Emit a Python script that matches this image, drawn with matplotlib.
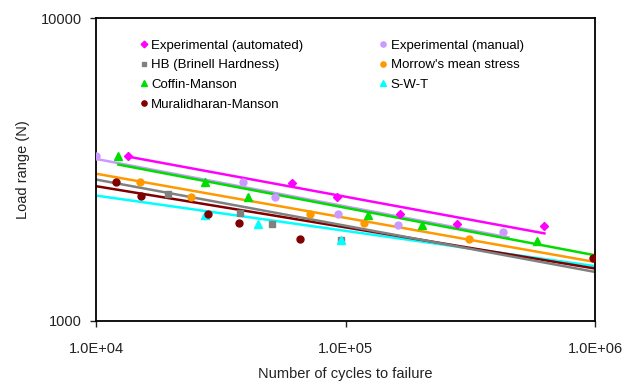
import numpy as np
import matplotlib
matplotlib.use("Agg")
import matplotlib.pyplot as plt
from matplotlib.ticker import FixedLocator, FuncFormatter, NullLocator

plt.rcParams["font.family"] = ["Liberation Sans", "DejaVu Sans"]

# ── Data points (cycles, load range N) ───────────────────────────────────────
auto_n = [1.34e4, 6.13e4, 9.23e4, 1.66e5, 2.8e5, 6.27e5]
auto_p = [3515, 2851, 2565, 2259, 2096, 2054]

manual_n = [1.0e4, 3.88e4, 5.2e4, 9.3e4, 1.62e5, 4.28e5]
manual_p = [3515, 2872, 2560, 2259, 2070, 1961]

hb_n = [1.94e4, 3.79e4, 5.09e4, 9.6e4]
hb_p = [2630, 2270, 2096, 1846]

morrow_n = [1.5e4, 2.41e4, 7.18e4, 1.19e5, 3.13e5]
morrow_p = [2872, 2565, 2259, 2104, 1858]

coffin_n = [1.23e4, 2.73e4, 4.07e4, 1.23e5, 2.03e5, 5.86e5]
coffin_p = [3500, 2872, 2565, 2234, 2070, 1835]

swt_n = [2.73e4, 4.46e4, 9.6e4]
swt_p = [2234, 2096, 1846]

mural_n = [1.2e4, 1.51e4, 2.8e4, 3.74e4, 6.58e4, 9.8e5]
mural_p = [2872, 2576, 2250, 2104, 1858, 1620]

# ── Trend lines (start/end cycles, start/end load) ──────────────────────────
auto_fit_n = [1.33e4, 6.27e5]
auto_fit_p = [3493, 1946]
manual_fit_n = [1.0e4, 4.5e5]
manual_fit_p = [3427, 1888]
hb_fit_n = [1.0e4, 1.0e6]
hb_fit_p = [2930, 1452]
morrow_fit_n = [1.0e4, 1.0e6]
morrow_fit_p = [3063, 1566]
coffin_fit_n = [1.23e4, 1.0e6]
coffin_fit_p = [3283, 1648]
swt_fit_n = [1.0e4, 1.0e6]
swt_fit_p = [2594, 1517]
mural_fit_n = [1.0e4, 1.0e6]
mural_fit_p = [2786, 1490]

MAGENTA = "#FF00FF"
LAVENDER = "#CC99FF"
GRAY = "#808080"
ORANGE = "#FF9900"
GREEN = "#00DD00"
CYAN = "#00FFFF"
DARKRED = "#800000"

fig = plt.figure(figsize=(6.34, 3.81), dpi=100)
ax = fig.add_axes([96 / 634, 1 - 321 / 381, 499 / 634, 303 / 381])

lw = 1.8
# trend lines
ax.plot(manual_fit_n, manual_fit_p, color=LAVENDER, lw=lw, zorder=2)
ax.plot(swt_fit_n, swt_fit_p, color=CYAN, lw=lw, zorder=2)
ax.plot(mural_fit_n, mural_fit_p, color=DARKRED, lw=lw, zorder=2)
ax.plot(hb_fit_n, hb_fit_p, color=GRAY, lw=lw, zorder=2)
ax.plot(morrow_fit_n, morrow_fit_p, color=ORANGE, lw=lw, zorder=2)
ax.plot(coffin_fit_n, coffin_fit_p, color=GREEN, lw=lw, zorder=2)
ax.plot(auto_fit_n, auto_fit_p, color=MAGENTA, lw=lw, zorder=2)

ms = 5
h_auto, = ax.plot(auto_n, auto_p, ls="none", marker="D", ms=ms - 0.5, color=MAGENTA,
                  label="Experimental (automated)", zorder=3)
h_manual, = ax.plot(manual_n, manual_p, ls="none", marker="o", ms=ms, color=LAVENDER,
                    label="Experimental (manual)", zorder=3)
h_hb, = ax.plot(hb_n, hb_p, ls="none", marker="s", ms=ms - 0.5, color=GRAY,
                label="HB (Brinell Hardness)", zorder=3)
h_morrow, = ax.plot(morrow_n, morrow_p, ls="none", marker="o", ms=ms, color=ORANGE,
                    label="Morrow's mean stress", zorder=3)
h_coffin, = ax.plot(coffin_n, coffin_p, ls="none", marker="^", ms=ms + 1, color=GREEN,
                    label="Coffin-Manson", zorder=3)
h_swt, = ax.plot(swt_n, swt_p, ls="none", marker="^", ms=ms + 1, color=CYAN,
                 label="S-W-T", zorder=3)
h_mural, = ax.plot(mural_n, mural_p, ls="none", marker="o", ms=ms, color=DARKRED,
                   label="Muralidharan-Manson", zorder=3)

ax.set_xscale("log")
ax.set_yscale("log")
ax.set_xlim(1e4, 1e6)
ax.set_ylim(1000, 10000)

ax.xaxis.set_major_locator(FixedLocator([1e4, 1e5, 1e6]))
ax.xaxis.set_minor_locator(NullLocator())
ax.yaxis.set_major_locator(FixedLocator([1000, 10000]))
ax.yaxis.set_minor_locator(NullLocator())
ax.xaxis.set_major_formatter(FuncFormatter(lambda v, p: "%.1E" % v))
ax.yaxis.set_major_formatter(FuncFormatter(lambda v, p: "%d" % v))
ax.tick_params(axis="both", labelsize=10.5, length=4, width=1, direction="out",
               colors="#222222", pad=6)
ax.tick_params(axis="x", pad=11)

for s in ax.spines.values():
    s.set_linewidth(1.3)
    s.set_color("black")

ax.set_xlabel("Number of cycles to failure", fontsize=10.5, color="#222222", labelpad=8)
ax.set_ylabel("Load range (N)", fontsize=10.5, color="#222222", labelpad=8)

# column-major fill -> row-major look
handles = [h_auto, h_hb, h_coffin, h_mural, h_manual, h_morrow, h_swt]
leg = ax.legend(handles=handles, labels=[h.get_label() for h in handles],
                ncol=2, loc="upper left", bbox_to_anchor=(0.066, 0.968), frameon=False,
                fontsize=9.5, handlelength=0.5, handletextpad=0.3, columnspacing=5.8,
                labelspacing=0.56, markerscale=0.75)

fig.savefig("out.png", dpi=100)
